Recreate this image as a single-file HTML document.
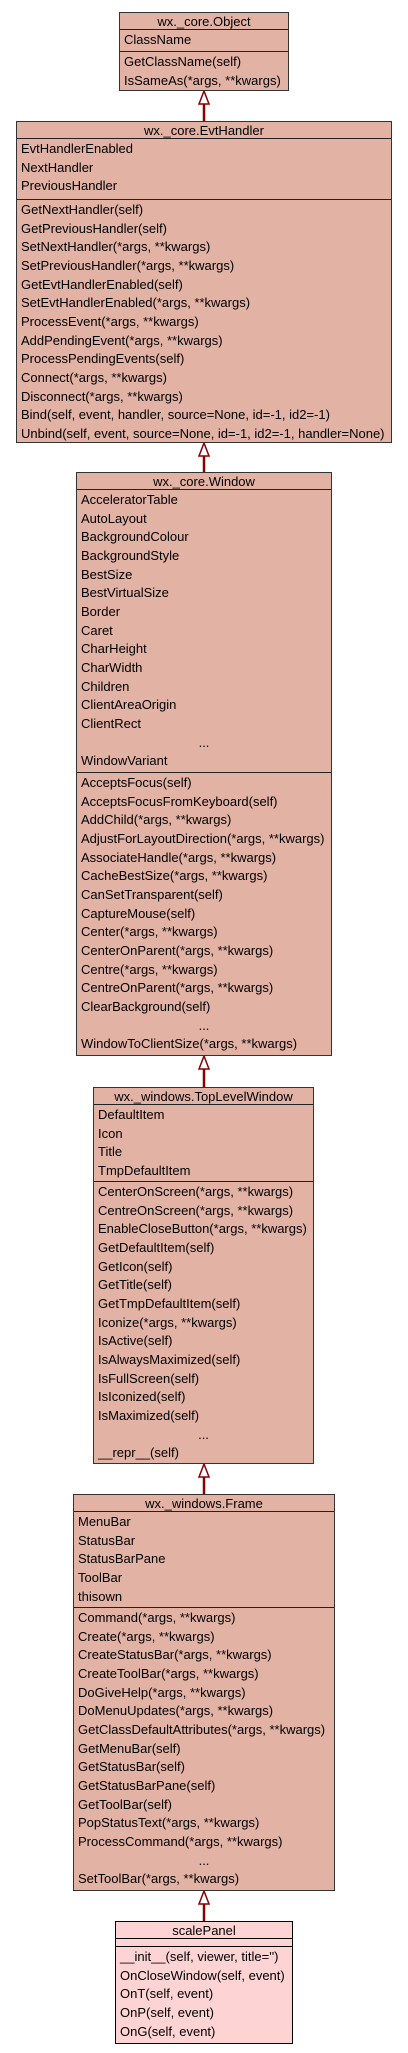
<!DOCTYPE html>
<html><head><meta charset="utf-8"><style>
html,body{margin:0;padding:0;background:#fff;}
body{width:408px;height:2053px;position:relative;overflow:hidden;font-family:"Liberation Sans",Helvetica,Arial,sans-serif;font-size:13px;color:#000;}
.b{position:absolute;background:#e2b2a4;border:1px solid #333;box-sizing:border-box;}
.b.p{background:#fdd3d4;border-color:#000;}
.t{height:17px;line-height:17px;text-align:center;border-bottom:1px solid #222;box-sizing:border-box;white-space:nowrap;}
.s{border-bottom:1px solid #222;box-sizing:border-box;padding:1px 0 0 4px;}
.m{padding:1px 0 0 4px;}
.r{height:18.67px;line-height:18.67px;white-space:nowrap;}
.c{text-align:center;padding-right:4px;}
svg{position:absolute;left:0;top:0;}
</style></head><body>
<svg width="408" height="2053">
<g stroke="#8b0000" stroke-width="2.5" fill="none">
<line x1="204" y1="104" x2="204" y2="121"/>
<line x1="204" y1="456" x2="204" y2="472"/>
<line x1="204" y1="1069" x2="204" y2="1087"/>
<line x1="204" y1="1477" x2="204" y2="1494"/>
<line x1="204" y1="1904" x2="204" y2="1921"/>
</g>
<g stroke="#8b0000" stroke-width="1.5" fill="#fff">
<polygon points="204,91 199,104 209,104"/>
<polygon points="204,443 199,456 209,456"/>
<polygon points="204,1056 199,1069 209,1069"/>
<polygon points="204,1464 199,1477 209,1477"/>
<polygon points="204,1891 199,1904 209,1904"/>
</g>
</svg>

<div class="b" style="left:119px;top:12px;width:170px;height:79px;">
<div class="t">wx._core.Object</div>
<div class="s" style="height:22px;"><div class="r">ClassName</div></div>
<div class="m"><div class="r">GetClassName(self)</div><div class="r">IsSameAs(*args, **kwargs)</div></div>
</div>

<div class="b" style="left:16px;top:121px;width:376px;height:322px;">
<div class="t">wx._core.EvtHandler</div>
<div class="s" style="height:61px;"><div class="r">EvtHandlerEnabled</div><div class="r">NextHandler</div><div class="r">PreviousHandler</div></div>
<div class="m">
<div class="r">GetNextHandler(self)</div><div class="r">GetPreviousHandler(self)</div><div class="r">SetNextHandler(*args, **kwargs)</div><div class="r">SetPreviousHandler(*args, **kwargs)</div><div class="r">GetEvtHandlerEnabled(self)</div><div class="r">SetEvtHandlerEnabled(*args, **kwargs)</div><div class="r">ProcessEvent(*args, **kwargs)</div><div class="r">AddPendingEvent(*args, **kwargs)</div><div class="r">ProcessPendingEvents(self)</div><div class="r">Connect(*args, **kwargs)</div><div class="r">Disconnect(*args, **kwargs)</div><div class="r">Bind(self, event, handler, source=None, id=-1, id2=-1)</div><div class="r">Unbind(self, event, source=None, id=-1, id2=-1, handler=None)</div>
</div></div>

<div class="b" style="left:76px;top:472px;width:256px;height:584px;">
<div class="t">wx._core.Window</div>
<div class="s" style="height:283px;">
<div class="r">AcceleratorTable</div><div class="r">AutoLayout</div><div class="r">BackgroundColour</div><div class="r">BackgroundStyle</div><div class="r">BestSize</div><div class="r">BestVirtualSize</div><div class="r">Border</div><div class="r">Caret</div><div class="r">CharHeight</div><div class="r">CharWidth</div><div class="r">Children</div><div class="r">ClientAreaOrigin</div><div class="r">ClientRect</div><div class="r c">...</div><div class="r">WindowVariant</div>
</div>
<div class="m">
<div class="r">AcceptsFocus(self)</div><div class="r">AcceptsFocusFromKeyboard(self)</div><div class="r">AddChild(*args, **kwargs)</div><div class="r">AdjustForLayoutDirection(*args, **kwargs)</div><div class="r">AssociateHandle(*args, **kwargs)</div><div class="r">CacheBestSize(*args, **kwargs)</div><div class="r">CanSetTransparent(self)</div><div class="r">CaptureMouse(self)</div><div class="r">Center(*args, **kwargs)</div><div class="r">CenterOnParent(*args, **kwargs)</div><div class="r">Centre(*args, **kwargs)</div><div class="r">CentreOnParent(*args, **kwargs)</div><div class="r">ClearBackground(self)</div><div class="r c">...</div><div class="r">WindowToClientSize(*args, **kwargs)</div>
</div></div>

<div class="b" style="left:93px;top:1087px;width:221px;height:377px;">
<div class="t">wx._windows.TopLevelWindow</div>
<div class="s" style="height:77px;"><div class="r">DefaultItem</div><div class="r">Icon</div><div class="r">Title</div><div class="r">TmpDefaultItem</div></div>
<div class="m">
<div class="r">CenterOnScreen(*args, **kwargs)</div><div class="r">CentreOnScreen(*args, **kwargs)</div><div class="r">EnableCloseButton(*args, **kwargs)</div><div class="r">GetDefaultItem(self)</div><div class="r">GetIcon(self)</div><div class="r">GetTitle(self)</div><div class="r">GetTmpDefaultItem(self)</div><div class="r">Iconize(*args, **kwargs)</div><div class="r">IsActive(self)</div><div class="r">IsAlwaysMaximized(self)</div><div class="r">IsFullScreen(self)</div><div class="r">IsIconized(self)</div><div class="r">IsMaximized(self)</div><div class="r c">...</div><div class="r">__repr__(self)</div>
</div></div>

<div class="b" style="left:73px;top:1494px;width:262px;height:397px;">
<div class="t">wx._windows.Frame</div>
<div class="s" style="height:96px;"><div class="r">MenuBar</div><div class="r">StatusBar</div><div class="r">StatusBarPane</div><div class="r">ToolBar</div><div class="r">thisown</div></div>
<div class="m">
<div class="r">Command(*args, **kwargs)</div><div class="r">Create(*args, **kwargs)</div><div class="r">CreateStatusBar(*args, **kwargs)</div><div class="r">CreateToolBar(*args, **kwargs)</div><div class="r">DoGiveHelp(*args, **kwargs)</div><div class="r">DoMenuUpdates(*args, **kwargs)</div><div class="r">GetClassDefaultAttributes(*args, **kwargs)</div><div class="r">GetMenuBar(self)</div><div class="r">GetStatusBar(self)</div><div class="r">GetStatusBarPane(self)</div><div class="r">GetToolBar(self)</div><div class="r">PopStatusText(*args, **kwargs)</div><div class="r">ProcessCommand(*args, **kwargs)</div><div class="r c">...</div><div class="r">SetToolBar(*args, **kwargs)</div>
</div></div>

<div class="b p" style="left:115px;top:1921px;width:178px;height:123px;">
<div class="t" style="border-color:#000;">scalePanel</div>
<div class="s" style="height:8px;border-color:#000;"></div>
<div class="m">
<div class="r">__init__(self, viewer, title='')</div><div class="r">OnCloseWindow(self, event)</div><div class="r">OnT(self, event)</div><div class="r">OnP(self, event)</div><div class="r">OnG(self, event)</div>
</div></div>
</body></html>
